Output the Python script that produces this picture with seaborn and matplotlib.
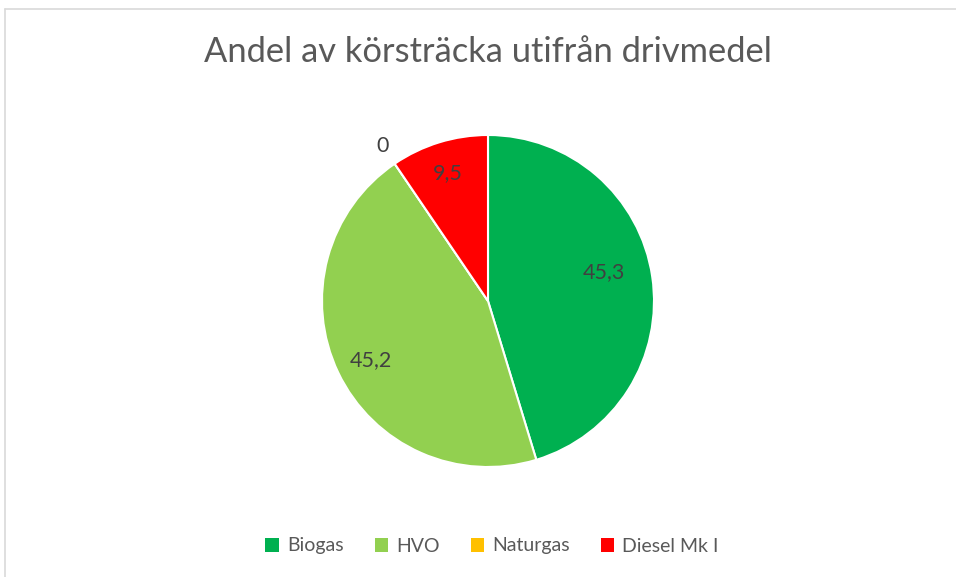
import numpy as np
import seaborn as sns
import matplotlib.pyplot as plt
from matplotlib.patches import Patch
from matplotlib.lines import Line2D

# Data
categories = ['Biogas', 'HVO', 'Naturgas', 'Diesel Mk I']
values = [45.3, 45.2, 0.0, 9.5]
value_labels = ['45,3', '45,2', '0', '9,5']
colors = ['#00B050', '#92D050', '#FFC000', '#FF0000']
# label placement (radius fraction, angle nudge in degrees)
label_dist = [0.72, 0.79, 1.13, 0.81]
label_nudge = [5.5, 1.0, 0.0, 0.5]

sns.set_theme(style="white")
plt.rcParams['font.family'] = ['Lato', 'DejaVu Sans']

W, H = 956, 577
fig = plt.figure(figsize=(W / 100, H / 100), dpi=100)

# light gray chart border (left and top)
fig.add_artist(Line2D([4.5 / W, 4.5 / W], [0, 1 - 8.5 / H], transform=fig.transFigure,
                      color='#d9d9d9', lw=1.2))
fig.add_artist(Line2D([4.5 / W, 1], [1 - 8.5 / H, 1 - 8.5 / H], transform=fig.transFigure,
                      color='#d9d9d9', lw=1.2))

fig.text(488 / W, 1 - 52 / H, 'Andel av körsträcka utifrån drivmedel',
         ha='center', va='center', fontsize=24.8, color='#595959')

cx, cy, r = 488, 301, 166
ax = fig.add_axes([(cx - r) / W, (H - cy - r) / H, 2 * r / W, 2 * r / H])
wedges, _ = ax.pie(values, colors=colors, startangle=90, counterclock=False,
                   wedgeprops=dict(edgecolor='white', linewidth=1.5))

for w, lab, d, nudge in zip(wedges, value_labels, label_dist, label_nudge):
    ang = np.deg2rad((w.theta1 + w.theta2) / 2 + nudge)
    ax.text(d * np.cos(ang), d * np.sin(ang), lab, ha='center', va='center',
            fontsize=15.5, color='#404040', clip_on=False)

ax.set_xlim(-1, 1)
ax.set_ylim(-1, 1)
ax.set_aspect('equal')
ax.axis('off')

handles = [Patch(facecolor=c, edgecolor='none') for c in colors]
fig.legend(handles, categories, loc='center', bbox_to_anchor=(492 / W, 1 - 546 / H),
           ncol=4, frameon=False, fontsize=14, labelcolor='#595959',
           handlelength=0.7, handleheight=0.7, handletextpad=0.4, columnspacing=1.6)

plt.savefig('out.png', dpi=100)
plt.close()
